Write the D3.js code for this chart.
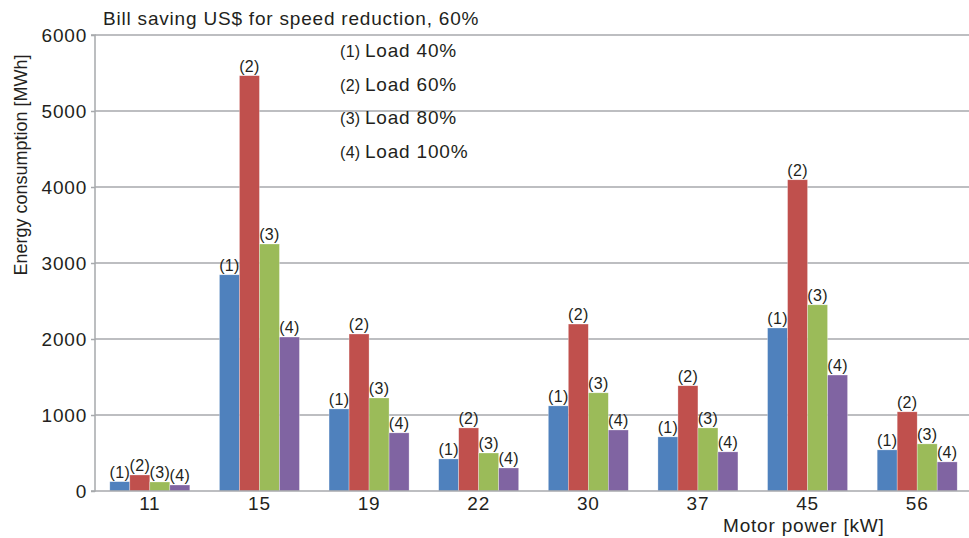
<!DOCTYPE html>
<html lang="en">
<head>
  <meta charset="UTF-8">
  <title>Energy consumption by motor power</title>
  <script src="https://d3js.org/d3.v7.min.js"></script>
  <style>
    body { margin: 0; background: #fff; }
    text { font-family: "Liberation Sans", Arial, sans-serif; fill: #231f20; letter-spacing: 0.8px; }
  </style>
</head>
<body>
<script>
  // categories (motor power, kW)
  const motors = ['11', '15', '19', '22', '30', '37', '45', '56'];
  const seriesKeys = ['(1)', '(2)', '(3)', '(4)'];
  const seriesNames = ['Load 40%', 'Load 60%', 'Load 80%', 'Load 100%'];
  const colors = ['#4f81bd', '#c0504d', '#9bbb59', '#8064a2'];

  // energy consumption [MWh] per load
  const load40 = [123, 2845, 1080, 422, 1120, 712, 2145, 541];
  const load60 = [211, 5465, 2066, 830, 2197, 1385, 4095, 1042];
  const load80 = [119, 3250, 1224, 500, 1292, 830, 2450, 620];
  const load100 = [79, 2026, 765, 303, 803, 515, 1526, 383];

  const yTicks = [0, 1000, 2000, 3000, 4000, 5000, 6000];

  const allSeries = [load40, load60, load80, load100];
  const rows = motors.map((m, i) => ({
    motor: m,
    values: allSeries.map((s, k) => ({key: seriesKeys[k], k: k, value: s[i]}))
  }));

  const width = 969;
  const height = 538;

  const svg = d3.select('body')
    .append('svg')
    .attr('width', width)
    .attr('height', height);

  // scales
  const x = d3.scaleBand()
    .domain(motors)
    .range([95, 972])
    .paddingInner(0.27)
    .paddingOuter(0.135);

  const xSub = d3.scaleBand()
    .domain(seriesKeys)
    .range([0, x.bandwidth()]);

  const y = d3.scaleLinear()
    .domain([0, 6000])
    .range([491, 35]);

  // gridlines
  svg.append('g')
    .selectAll('line')
    .data(yTicks.slice(1))
    .join('line')
    .attr('x1', 95)
    .attr('x2', width)
    .attr('y1', d => y(d))
    .attr('y2', d => y(d))
    .attr('stroke', '#a7a9ac')
    .attr('stroke-width', 1.5);

  // bars
  const groups = svg.append('g')
    .selectAll('g')
    .data(rows)
    .join('g')
    .attr('transform', d => 'translate(' + x(d.motor) + ',0)');

  groups.selectAll('rect')
    .data(d => d.values)
    .join('rect')
    .attr('x', d => xSub(d.key))
    .attr('width', xSub.bandwidth())
    .attr('y', d => y(d.value))
    .attr('height', d => y(0) - y(d.value))
    .attr('fill', d => colors[d.k])
    .attr('stroke', '#ffffff')
    .attr('stroke-opacity', 0.5)
    .attr('stroke-width', 0.6);

  groups.selectAll('text')
    .data(d => d.values)
    .join('text')
    .attr('x', d => xSub(d.key) + xSub.bandwidth() / 2)
    .attr('y', d => y(d.value) - 4)
    .attr('text-anchor', 'middle')
    .style('font-size', '16px')
    .style('letter-spacing', '0.3px')
    .text(d => d.key);

  // Y axis
  const yAxis = svg.append('g')
    .attr('transform', 'translate(95,0)')
    .call(d3.axisLeft(y).tickValues(yTicks).tickSize(4).tickPadding(4).tickFormat(d3.format('d')));
  yAxis.selectAll('text').style('font-size', '19px');
  yAxis.selectAll('line, path').attr('stroke', '#a7a9ac').attr('stroke-width', 1.5);
  yAxis.select('.domain').attr('d', 'M-4,' + y(6000) + 'H0V' + y(0) + 'H-4');

  // X axis
  const xAxis = svg.append('g')
    .attr('transform', 'translate(0,' + y(0) + ')')
    .call(d3.axisBottom(x).tickSize(0).tickPadding(6));
  xAxis.selectAll('text').style('font-size', '19px');
  xAxis.select('.domain').attr('d', 'M95,0H' + width).attr('stroke', '#a7a9ac').attr('stroke-width', 1.5);

  // titles
  svg.append('text')
    .attr('x', 103)
    .attr('y', 25)
    .style('font-size', '19px')
    .text('Bill saving US$ for speed reduction, 60%');

  svg.append('text')
    .attr('transform', 'translate(27,165) rotate(-90)')
    .attr('text-anchor', 'middle')
    .style('font-size', '18px')
    .style('letter-spacing', '0px')
    .text('Energy consumption [MWh]');

  svg.append('text')
    .attr('x', 723)
    .attr('y', 532)
    .style('font-size', '19px')
    .text('Motor power [kW]');

  // legend (text only)
  const legend = svg.append('g')
    .selectAll('g')
    .data(seriesKeys)
    .join('g')
    .attr('transform', (d, i) => 'translate(340,' + (57 + i * 33.5) + ')');

  legend.append('text')
    .style('font-size', '16px')
    .style('letter-spacing', '0.3px')
    .text(d => d);

  legend.append('text')
    .attr('x', 25)
    .style('font-size', '19px')
    .text((d, i) => seriesNames[i]);
</script>
</body>
</html>
